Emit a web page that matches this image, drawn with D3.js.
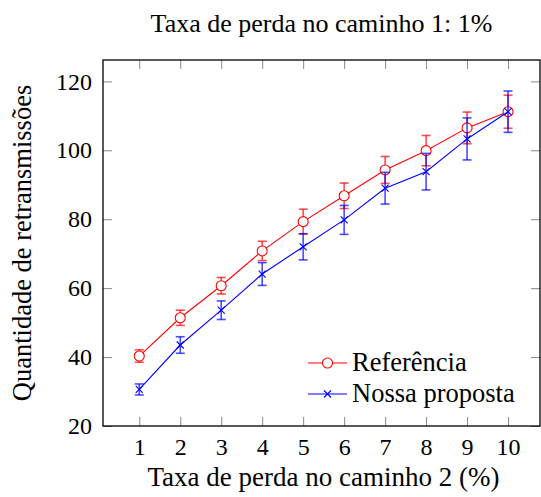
<!DOCTYPE html>
<html>
<head>
<meta charset="utf-8">
<script src="https://cdn.jsdelivr.net/npm/d3@7"></script>
<style>
  body { margin: 0; background: #fff; }
  svg text { font-family: "Liberation Serif", "Times New Roman", serif; fill: #000; }
</style>
</head>
<body>
<div id="graph"></div>
<script>
// data
var lossRates   = [1, 2, 3, 4, 5, 6, 7, 8, 9, 10];
var refValues   = [40.3, 51.4, 60.7, 70.8, 79.3, 86.8, 94.3, 99.9, 106.5, 111.2];
var refErrors   = [1.8, 2.2, 2.4, 2.8, 3.6, 3.7, 3.9, 4.4, 4.6, 4.8];
var oursValues  = [30.6, 43.5, 53.6, 64.1, 72.0, 79.8, 89.0, 93.8, 103.3, 111.2];
var oursErrors  = [1.6, 2.4, 2.7, 3.3, 3.8, 4.2, 4.6, 5.3, 6.1, 6.0];
var yTicks      = [20, 40, 60, 80, 100, 120];
var seriesNames = ['Referência', 'Nossa proposta'];

var W = 541, H = 497;
var margin = { top: 60, right: 1, bottom: 71, left: 103 };
var width  = W - margin.left - margin.right;
var height = H - margin.top - margin.bottom;
var serif  = '"Liberation Serif", "Times New Roman", serif';

var svg = d3.select('#graph')
            .append('svg')
            .attr('width', W)
            .attr('height', H);

var g = svg.append('g')
           .attr('transform', 'translate(' + margin.left + ',' + margin.top + ')');

var xScale = d3.scaleLinear()
               .domain([0.115, 10.78])
               .range([0, width]);

var yScale = d3.scaleLinear()
               .domain([20, 126.2])
               .range([height, 0]);

// tick marks on all four sides, pointing inwards
function tickStyle (sel) {
    sel.attr('font-family', serif).attr('font-size', 24);
    sel.select('.domain').remove();
    sel.selectAll('.tick line').attr('stroke', '#888').attr('stroke-width', 1);
}

g.append('g')
 .attr('transform', 'translate(0,' + height + ')')
 .call(d3.axisBottom(xScale).tickValues(lossRates).tickSize(-9).tickPadding(12)
         .tickFormat(d3.format('d')))
 .call(tickStyle);

g.append('g')
 .call(d3.axisTop(xScale).tickValues(lossRates).tickSize(-9).tickFormat(''))
 .call(tickStyle);

g.append('g')
 .call(d3.axisLeft(yScale).tickValues(yTicks).tickSize(-9).tickPadding(11))
 .call(tickStyle);

g.append('g')
 .attr('transform', 'translate(' + width + ',0)')
 .call(d3.axisRight(yScale).tickValues(yTicks).tickSize(-9).tickFormat(''))
 .call(tickStyle);

g.append('rect')
 .attr('width', width)
 .attr('height', height)
 .attr('fill', 'none')
 .attr('stroke', '#000')
 .attr('stroke-width', 1.3);

var line = d3.line()
             .x(function(d) { return xScale(d.x); })
             .y(function(d) { return yScale(d.y); });

function drawSeries (values, errors, color, mark)
{
    var pts = lossRates.map(function(x, i) { return { x: x, y: values[i], e: errors[i] }; });
    var s = g.append('g');

    s.append('path')
     .datum(pts)
     .attr('d', line)
     .attr('fill', 'none')
     .attr('stroke', color)
     .attr('stroke-width', 1.1);

    var bars = s.selectAll('.err').data(pts).enter().append('g')
                .attr('stroke', color)
                .attr('stroke-opacity', 0.7)
                .attr('stroke-width', 1.6);
    bars.append('line')
        .attr('x1', function(d) { return xScale(d.x); })
        .attr('x2', function(d) { return xScale(d.x); })
        .attr('y1', function(d) { return yScale(d.y - d.e); })
        .attr('y2', function(d) { return yScale(d.y + d.e); });
    [-1, 1].forEach(function(sgn) {
        bars.append('line')
            .attr('x1', function(d) { return xScale(d.x) - 4.5; })
            .attr('x2', function(d) { return xScale(d.x) + 4.5; })
            .attr('y1', function(d) { return yScale(d.y + sgn * d.e); })
            .attr('y2', function(d) { return yScale(d.y + sgn * d.e); });
    });

    pts.forEach(function(d) {
        mark(s, xScale(d.x), yScale(d.y));
    });
}

function circleMark (sel, x, y)
{
    sel.append('circle')
       .attr('cx', x).attr('cy', y).attr('r', 5)
       .attr('fill', '#fff')
       .attr('stroke', 'red')
       .attr('stroke-width', 1.1);
}

function crossMark (sel, x, y)
{
    var r = 3.5;
    sel.append('path')
       .attr('d', 'M' + (x - r) + ',' + (y - r) + 'L' + (x + r) + ',' + (y + r) +
                  'M' + (x - r) + ',' + (y + r) + 'L' + (x + r) + ',' + (y - r))
       .attr('stroke', 'blue')
       .attr('stroke-width', 1.1);
}

drawSeries(refValues, refErrors, 'red', circleMark);
drawSeries(oursValues, oursErrors, 'blue', crossMark);

// legend
var legend = svg.append('g');
var legendRows = [
    { name: seriesNames[0], color: 'red',  mark: circleMark, y: 363 },
    { name: seriesNames[1], color: 'blue', mark: crossMark,  y: 394 }
];
legendRows.forEach(function(r) {
    legend.append('line')
          .attr('x1', 308).attr('x2', 347)
          .attr('y1', r.y).attr('y2', r.y)
          .attr('stroke', r.color)
          .attr('stroke-width', 1.1);
    r.mark(legend, 327.5, r.y);
    legend.append('text')
          .attr('x', 352)
          .attr('y', r.y + 8)
          .attr('font-family', serif)
          .attr('font-size', 26.5)
          .text(r.name);
});

// titles
svg.append('text')
   .attr('x', margin.left + width / 2)
   .attr('y', 32)
   .attr('text-anchor', 'middle')
   .attr('font-family', serif)
   .attr('font-size', 26)
   .text('Taxa de perda no caminho 1: 1%');

svg.append('text')
   .attr('x', margin.left + width / 2 + 2)
   .attr('y', 486)
   .attr('text-anchor', 'middle')
   .attr('font-family', serif)
   .attr('font-size', 27)
   .text('Taxa de perda no caminho 2 (%)');

svg.append('text')
   .attr('transform', 'translate(31,' + (margin.top + height / 2) + ') rotate(-90)')
   .attr('text-anchor', 'middle')
   .attr('font-family', serif)
   .attr('font-size', 26.5)
   .text('Quantidade de retransmissões');
</script>
</body>
</html>
